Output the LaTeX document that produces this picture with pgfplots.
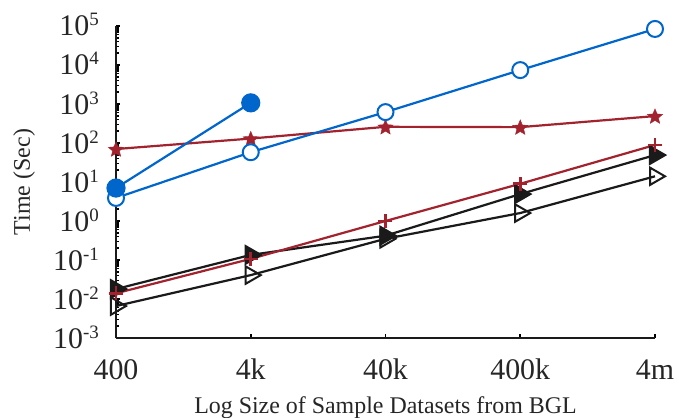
\documentclass[border=0pt]{standalone}
\usepackage{pgfplots}
\pgfplotsset{compat=1.18}
\usepackage{fontspec}
\setmainfont{Liberation Serif}

\definecolor{cblue}{RGB}{0,102,204}
\definecolor{cred}{RGB}{162,35,46}
\definecolor{cblack}{RGB}{26,26,26}

% power-of-ten tick label set in the text font
\newcommand{\tp}[1]{10\raisebox{10bp}{\fontsize{19}{19}\selectfont #1}}

\begin{document}
\begin{tikzpicture}
\useasboundingbox (-116bp,-80bp) rectangle (563bp,338bp);
\begin{axis}[
  scale only axis,
  width=539bp, height=312bp,
  ymode=log,
  xmin=0, xmax=4,
  ymin=1e-3, ymax=1e5,
  axis x line*=bottom,
  axis y line*=left,
  axis line style={line width=2.6bp, draw=cblack},
  xtick={0,1,2,3,4},
  xticklabels={400,4k,40k,400k,4m},
  ytick={1e-3,1e-2,1e-1,1,1e1,1e2,1e3,1e4,1e5},
  yticklabels={\tp{-3},\tp{-2},\tp{-1},\tp{0},\tp{1},\tp{2},\tp{3},\tp{4},\tp{5}},
  tick align=inside,
  tick style={black, line width=1.6pt},
  ticklabel style={font=\fontsize{30}{32}\selectfont, text=black!85},
  xticklabel style={anchor=base, inner sep=0pt, yshift=-41bp},
  yticklabel style={anchor=base east, inner sep=0pt, xshift=-17bp, yshift=-10bp},
  xlabel={Log Size of Sample Datasets from BGL},
  ylabel={Time (Sec)},
  label style={font=\fontsize{24}{26}\selectfont, text=black!85},
  xlabel style={at={(axis description cs:0.5,0)}, anchor=base, inner sep=0pt, yshift=-75bp},
  ylabel style={at={(axis description cs:0,0.5)}, anchor=base, inner sep=0pt, yshift=86bp},
  clip=false,
  every axis plot/.append style={line width=2.2bp},
]
% open triangles
\addplot[cblack, mark=triangle, mark size=10bp,
  mark options={rotate=-90, fill=white, line width=2bp, solid}]
  coordinates {(0,0.0066) (1,0.041) (2,0.35) (3,1.6) (4,14)};
% filled triangles
\addplot[cblack, mark=triangle*, mark size=10bp,
  mark options={rotate=-90, fill=cblack, solid}]
  coordinates {(0,0.018) (1,0.135) (2,0.42) (3,4.9) (4,49)};
% plus
\addplot[cred, mark=+, mark size=7bp, mark options={line width=2.6bp}]
  coordinates {(0,0.014) (1,0.107) (2,1.0) (3,9.0) (4,89)};
% stars
\addplot[cred] coordinates {(0,70) (1,130) (2,260) (3,255) (4,490)};
\addplot[only marks, cred, mark=*, mark size=0pt,
  nodes near coords={\tikz\fill[cred] (90:8bp) -- (126:3.6bp) -- (162:8bp) -- (198:3.6bp) -- (234:8bp) -- (270:3.6bp) -- (306:8bp) -- (342:3.6bp) -- (18:8bp) -- (54:3.6bp) -- cycle;},
  every node near coord/.style={anchor=center, inner sep=0pt}]
  coordinates {(0,70) (1,130) (2,260) (3,255) (4,490)};
% open circles
\addplot[cblue, mark=*, mark size=8bp, mark options={fill=white, line width=2bp}]
  coordinates {(0,3.9) (1,58) (2,620) (3,7400) (4,84000)};
% filled circles
\addplot[cblue, mark=*, mark size=8.5bp, mark options={fill=cblue}]
  coordinates {(0,7) (1,1070)};
\end{axis}
\end{tikzpicture}
\end{document}
